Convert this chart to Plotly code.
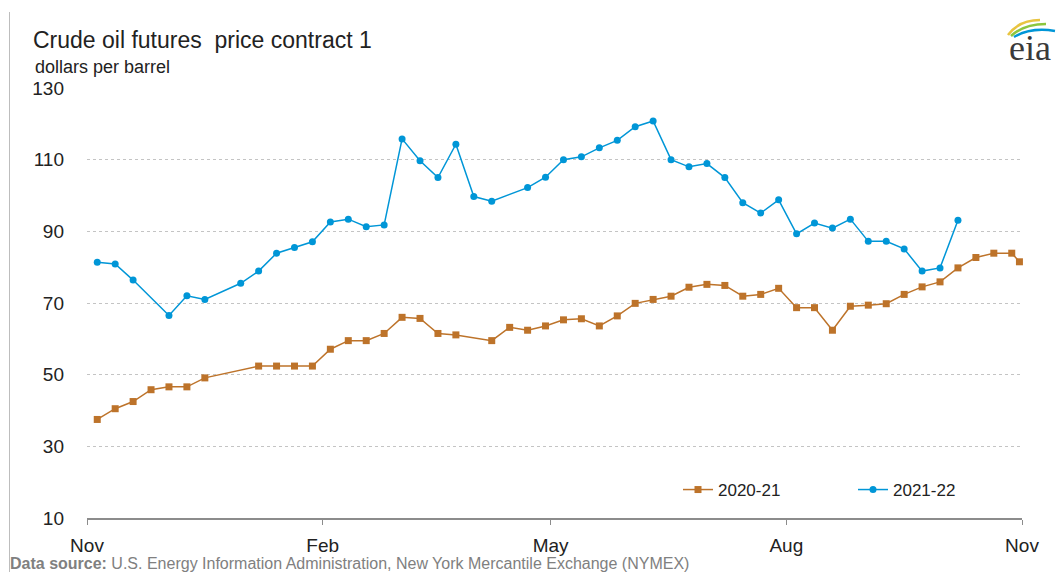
import pandas as pd
import plotly.graph_objects as go

# ---- data (weekly) ----
dates_2020_21 = [
    "2020-11-05", "2020-11-12", "2020-11-19", "2020-11-26", "2020-12-03", "2020-12-10", "2020-12-17",
    "2021-01-07", "2021-01-14", "2021-01-21", "2021-01-28", "2021-02-04", "2021-02-11", "2021-02-18",
    "2021-02-25", "2021-03-04", "2021-03-11", "2021-03-18", "2021-03-25", "2021-04-08", "2021-04-15",
    "2021-04-22", "2021-04-29", "2021-05-06", "2021-05-13", "2021-05-20", "2021-05-27", "2021-06-03",
    "2021-06-10", "2021-06-17", "2021-06-24", "2021-07-01", "2021-07-08", "2021-07-15", "2021-07-22",
    "2021-07-29", "2021-08-05", "2021-08-12", "2021-08-19", "2021-08-26", "2021-09-02", "2021-09-09",
    "2021-09-16", "2021-09-23", "2021-09-30", "2021-10-07", "2021-10-14", "2021-10-21", "2021-10-28",
    "2021-10-31",
]
prices_2020_21 = [
    37.5, 40.5, 42.5, 45.8, 46.6, 46.6, 49.1,
    52.4, 52.4, 52.4, 52.4, 57.1, 59.5, 59.5,
    61.5, 66.0, 65.7, 61.5, 61.1, 59.5, 63.2,
    62.4, 63.6, 65.3, 65.6, 63.6, 66.4, 69.9,
    71.0, 71.9, 74.4, 75.2, 74.9, 71.9, 72.4,
    74.1, 68.7, 68.7, 62.4, 69.1, 69.4, 69.8,
    72.4, 74.5, 75.9, 79.8, 82.7, 83.9, 83.9,
    81.5,
]

dates_2021_22 = [
    "2021-11-05", "2021-11-12", "2021-11-19", "2021-12-03", "2021-12-10", "2021-12-17", "2021-12-31",
    "2022-01-07", "2022-01-14", "2022-01-21", "2022-01-28", "2022-02-04", "2022-02-11", "2022-02-18",
    "2022-02-25", "2022-03-04", "2022-03-11", "2022-03-18", "2022-03-25", "2022-04-01", "2022-04-08",
    "2022-04-22", "2022-04-29", "2022-05-06", "2022-05-13", "2022-05-20", "2022-05-27", "2022-06-03",
    "2022-06-10", "2022-06-17", "2022-06-24", "2022-07-01", "2022-07-08", "2022-07-15", "2022-07-22",
    "2022-07-29", "2022-08-05", "2022-08-12", "2022-08-19", "2022-08-26", "2022-09-02", "2022-09-09",
    "2022-09-16", "2022-09-23", "2022-09-30", "2022-10-07",
]
prices_2021_22 = [
    81.4, 80.9, 76.4, 66.5, 72.0, 71.0, 75.5,
    78.9, 83.9, 85.5, 87.1, 92.6, 93.4, 91.3,
    91.8, 115.8, 109.7, 105.0, 114.3, 99.7, 98.4,
    102.2, 105.1, 110.0, 110.8, 113.3, 115.4, 119.2,
    120.8, 110.0, 108.0, 108.9, 105.0, 98.0, 95.1,
    98.8, 89.3, 92.3, 90.9, 93.4, 87.2, 87.2,
    85.1, 78.9, 79.8, 93.1,
]

series_names = ["2020-21", "2021-22"]
x_tick_dates = ["2020-11-01", "2021-02-01", "2021-05-01", "2021-08-01", "2021-11-01"]
x_tick_labels = ["Nov", "Feb", "May", "Aug", "Nov"]
y_ticks = [10, 30, 50, 70, 90, 110, 130]

# both seasons drawn on a common Nov-to-Nov axis
x_a = pd.to_datetime(dates_2020_21)
x_b = pd.to_datetime(dates_2021_22) - pd.DateOffset(years=1)

W, H = 1059, 572
L, R, T, B = 87, 1022, 88, 518

def px(x):
    return (x - L) / (R - L)

def py(y):
    return (B - y) / (B - T)

ORANGE = "#BD732A"
BLUE = "#0096D7"
ARIAL = "Arial, Liberation Sans, sans-serif"

fig = go.Figure()
fig.add_trace(go.Scatter(
    x=x_a, y=prices_2020_21, name=series_names[0], mode="lines+markers",
    line=dict(color=ORANGE, width=1.5),
    marker=dict(symbol="square", size=7, color=ORANGE),
    cliponaxis=False,
))
fig.add_trace(go.Scatter(
    x=x_b, y=prices_2021_22, name=series_names[1], mode="lines+markers",
    line=dict(color=BLUE, width=1.5),
    marker=dict(symbol="circle", size=7, color=BLUE),
    cliponaxis=False,
))

fig.update_layout(
    width=W, height=H,
    margin=dict(l=L, r=W - R, t=T, b=H - B, pad=0),
    paper_bgcolor="white", plot_bgcolor="white",
    font=dict(family=ARIAL, color="#222222"),
    showlegend=True,
    legend=dict(
        orientation="h", x=px(678), y=py(490), xanchor="left", yanchor="middle",
        font=dict(family=ARIAL, size=17, color="#222222"),
        entrywidth=130, bgcolor="rgba(0,0,0,0)", traceorder="normal",
    ),
    xaxis=dict(
        type="date", range=["2020-11-01", "2021-11-01"],
        tickmode="array", tickvals=x_tick_dates, ticktext=x_tick_labels,
        showgrid=False, zeroline=False,
        showline=True, linecolor="#8c8c8c", linewidth=1.5,
        ticks="outside", ticklen=5, tickcolor="#8c8c8c", tickwidth=1,
        tickfont=dict(family=ARIAL, size=19, color="#222222"),
        ticklabelstandoff=4,
    ),
    yaxis=dict(
        range=[10, 130], tickmode="array", tickvals=y_ticks,
        showgrid=True, gridcolor="#c4c4c4", griddash="dot", gridwidth=1,
        zeroline=False, showline=False, ticks="",
        tickfont=dict(family=ARIAL, size=19, color="#222222"),
        ticklabelstandoff=22,
    ),
)

annotations = [
    dict(text="Crude oil futures  price contract 1", x=px(31), y=py(40), xanchor="left", yanchor="middle",
         font=dict(family=ARIAL, size=23, color="#222222")),
    dict(text="dollars per barrel", x=px(33), y=py(67), xanchor="left", yanchor="middle",
         font=dict(family=ARIAL, size=18, color="#222222")),
    dict(text="<b>Data source:</b> U.S. Energy Information Administration, New York Mercantile Exchange (NYMEX)",
         x=px(8), y=py(563), xanchor="left", yanchor="middle",
         font=dict(family=ARIAL, size=16, color="#808080")),
    dict(text="eia", x=px(1030), y=py(48), xanchor="center", yanchor="middle",
         font=dict(family="Liberation Serif, DejaVu Serif, serif", size=36, color="#3a3a3a")),
]
for a in annotations:
    a.update(xref="paper", yref="paper", showarrow=False)
fig.update_layout(annotations=annotations)

shapes = [
    # left frame line
    dict(type="line", xref="paper", yref="paper", x0=px(9.5), x1=px(9.5), y0=py(12), y1=py(572),
         line=dict(color="#bdbdbd", width=1)),
]
# logo swooshes above "eia"
arcs = [
    ((1008, 35), (1019, 20), (1040, 20), "#E8C440"),
    ((1011, 36), (1024, 24), (1046, 24), "#8CC63F"),
    ((1014, 37), (1031, 27), (1055, 31), "#0096D7"),
]
for (x0, y0), (cx, cy), (x1, y1), col in arcs:
    shapes.append(dict(
        type="path", xref="paper", yref="paper",
        path=f"M {px(x0):.5f},{py(y0):.5f} Q {px(cx):.5f},{py(cy):.5f} {px(x1):.5f},{py(y1):.5f}",
        line=dict(color=col, width=2.5),
    ))
fig.update_layout(shapes=shapes)

fig.write_html(
    "out.html",
    config={"displayModeBar": False},
    post_script="document.body.style.margin='0';document.body.style.padding='0';",
)
